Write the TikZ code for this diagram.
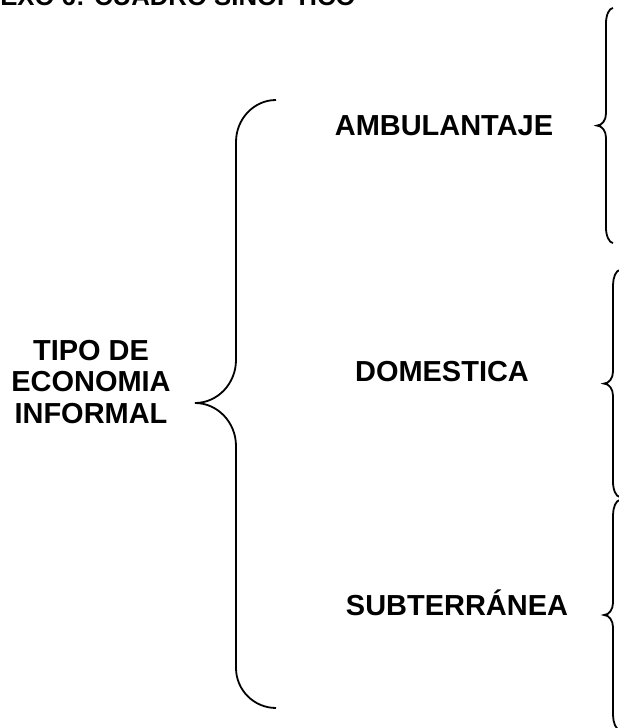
\documentclass[tikz,border=0pt]{standalone}
\usepackage{fontspec}
\setmainfont{Liberation Sans}
\usepackage{tikz}
\usetikzlibrary{positioning}

\begin{document}
\begin{tikzpicture}[llave/.style={line width=0.45mm},
  rotulo/.style={inner sep=0pt,font=\fontsize{20.6}{22.4}\selectfont\bfseries}]
\useasboundingbox (0mm,0mm) rectangle (154.75mm,182mm);
\node[inner sep=0pt,anchor=base west,font=\fontsize{18.3}{20}\selectfont\bfseries]
  (titulo) at (0mm,180.5mm) {EXO 6: CUADRO SINOPTICO};

% llave grande
\draw[llave] (69mm,157mm) .. controls (63.5mm,157mm) and (59mm,152.3mm) .. (59mm,146.5mm)
  -- (59mm,92mm) .. controls (59mm,86.1mm) and (54.4mm,81.25mm) .. (48.75mm,81.25mm)
  .. controls (54.4mm,81.25mm) and (59mm,76.4mm) .. (59mm,70.5mm)
  -- (59mm,15mm) .. controls (59mm,9.5mm) and (63.5mm,5mm) .. (69mm,5mm);
\node[rotulo,align=center] (tipo) at (22.75mm,86.6mm) {TIPO DE\\ECONOMIA\\INFORMAL};

% tipos
\node[rotulo,anchor=base] (ambulantaje) at (111mm,148mm) {AMBULANTAJE};
\node[rotulo,anchor=base] (domestica) at (110.5mm,86.5mm) {DOMESTICA};
\node[rotulo,anchor=base] (subterranea) at (114.25mm,28mm) {SUBTERRÁNEA};

% llaves de la derecha
\draw[llave] (153.25mm,180mm) .. controls (152.3mm,180mm) and (151.5mm,178.2mm) .. (151.5mm,176.25mm)
  -- (151.5mm,153.6mm) .. controls (151.5mm,152mm) and (150.5mm,150.6mm) .. (149.25mm,150.6mm)
  .. controls (150.5mm,150.6mm) and (151.5mm,149.2mm) .. (151.5mm,147.6mm)
  -- (151.5mm,125mm) .. controls (151.5mm,123.1mm) and (152.3mm,121.25mm) .. (153.25mm,121.25mm);
\draw[llave] (155mm,114.5mm) .. controls (154mm,114.5mm) and (153.25mm,112.6mm) .. (153.25mm,110.75mm)
  -- (153.25mm,89.1mm) .. controls (153.25mm,87.5mm) and (152.25mm,86.1mm) .. (151mm,86.1mm)
  .. controls (152.25mm,86.1mm) and (153.25mm,84.7mm) .. (153.25mm,83.1mm)
  -- (153.25mm,61.5mm) .. controls (153.25mm,59.6mm) and (154mm,57.75mm) .. (155mm,57.75mm);
\draw[llave] (155mm,57mm) .. controls (154mm,57mm) and (153.25mm,55.1mm) .. (153.25mm,53.25mm)
  -- (153.25mm,31.25mm) .. controls (153.25mm,29.65mm) and (152.25mm,28.25mm) .. (151mm,28.25mm)
  .. controls (152.25mm,28.25mm) and (153.25mm,26.85mm) .. (153.25mm,25.25mm)
  -- (153.25mm,3.25mm) .. controls (153.25mm,1.4mm) and (154mm,-0.5mm) .. (155mm,-0.5mm);
\end{tikzpicture}
\end{document}
